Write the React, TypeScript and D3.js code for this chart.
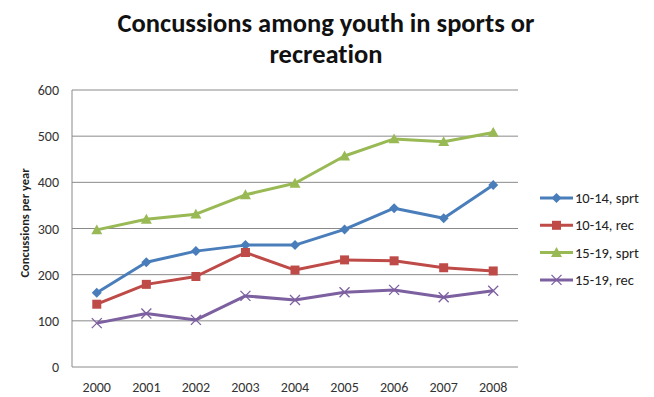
import React from "react";
import * as d3 from "d3";

const years = ["2000", "2001", "2002", "2003", "2004", "2005", "2006", "2007", "2008"];
const seriesNames = ["10-14, sprt", "10-14, rec", "15-19, sprt", "15-19, rec"];
const sprt1014 = [161, 227, 251, 264, 264, 298, 344, 322, 394];
const rec1014 = [136, 179, 196, 248, 210, 232, 230, 215, 208];
const sprt1519 = [297, 320, 331, 373, 398, 457, 494, 488, 508];
const rec1519 = [95, 116, 102, 154, 145, 162, 167, 151, 165];
const yTicks = [0, 100, 200, 300, 400, 500, 600];
const colors = ["#4A7EBB", "#BE4B48", "#98B954", "#7D60A0"];
const markers = ["diamond", "square", "triangle", "x"];

const W = 654, H = 397;
const left = 72, right = 518, top = 90, bottom = 367;

function Marker({ type, x, y, color }: { type: string; x: number; y: number; color: string }) {
  if (type === "diamond") {
    const s = 5;
    return <path d={`M${x},${y - s}L${x + s},${y}L${x},${y + s}L${x - s},${y}Z`} fill={color} />;
  }
  if (type === "square") {
    const s = 4.5;
    return <rect x={x - s} y={y - s} width={2 * s} height={2 * s} fill={color} />;
  }
  if (type === "triangle") {
    const s = 5.5;
    return <path d={`M${x},${y - s}L${x + s},${y + s * 0.8}L${x - s},${y + s * 0.8}Z`} fill={color} />;
  }
  const s = 5;
  return (
    <path d={`M${x - s},${y - s}L${x + s},${y + s}M${x - s},${y + s}L${x + s},${y - s}`} stroke={color} strokeWidth={1.3} fill="none" />
  );
}

const noLig = {
  fontVariantLigatures: "none",
  fontFeatureSettings: "'liga' 0, 'clig' 0, 'dlig' 0, 'calt' 0",
} as React.CSSProperties;

export default function App() {
  const data = [sprt1014, rec1014, sprt1519, rec1519];
  const x = d3.scaleBand<string>().domain(years).range([left, right]);
  const y = d3.scaleLinear().domain([0, 600]).range([bottom, top]);
  const cx = (yr: string) => (x(yr) as number) + x.bandwidth() / 2;
  const line = d3
    .line<number>()
    .x((_, i) => cx(years[i]))
    .y((d) => y(d));
  const font = "Carlito, Calibri, 'Open Sans', 'Liberation Sans', sans-serif";

  return (
    <svg
      width={W}
      height={H}
      style={{ position: "absolute", left: 0, top: 0, background: "#fff", ...noLig }}
      fontFamily={font}
    >
      <rect x={0} y={0} width={W} height={H} fill="#fff" />
      <text x={326} y={32} textAnchor="middle" fontSize={26.5} fontWeight="bold" fill="#111" style={noLig}>
        Concussions among youth in sports or
      </text>
      <text x={326} y={63} textAnchor="middle" fontSize={26.5} fontWeight="bold" fill="#111" style={noLig}>
        recreation
      </text>
      {yTicks.map((t) => (
        <g key={t}>
          {t > 0 && <line x1={left} x2={right} y1={y(t)} y2={y(t)} stroke="#8a8a8a" strokeWidth={1} />}
          <text x={left - 13} y={y(t) + 5} textAnchor="end" fontSize={14} fill="#333">
            {t}
          </text>
        </g>
      ))}
      <line x1={left} x2={left} y1={top} y2={bottom} stroke="#8a8a8a" strokeWidth={1} />
      <line x1={left} x2={right} y1={bottom} y2={bottom} stroke="#8a8a8a" strokeWidth={1} />
      {years.map((yr) => (
        <text key={yr} x={cx(yr)} y={bottom + 25} textAnchor="middle" fontSize={14} fill="#333">
          {yr}
        </text>
      ))}
      <text
        transform={`translate(29,${223}) rotate(-90)`}
        textAnchor="middle"
        fontSize={12.5}
        fontWeight="bold"
        fill="#222"
      >
        Concussions  per year
      </text>
      {data.map((vals, si) => (
        <g key={si}>
          <path d={line(vals) as string} fill="none" stroke={colors[si]} strokeWidth={3} strokeLinejoin="round" />
          {vals.map((v, i) => (
            <Marker key={i} type={markers[si]} x={cx(years[i])} y={y(v)} color={colors[si]} />
          ))}
        </g>
      ))}
      {seriesNames.map((n, si) => {
        const ly = 198 + si * 27.3;
        return (
          <g key={n}>
            <line x1={540} x2={573} y1={ly} y2={ly} stroke={colors[si]} strokeWidth={3} />
            <Marker type={markers[si]} x={556.5} y={ly} color={colors[si]} />
            <text x={575} y={ly + 5} fontSize={14.5} fill="#222">
              {n}
            </text>
          </g>
        );
      })}
    </svg>
  );
}
